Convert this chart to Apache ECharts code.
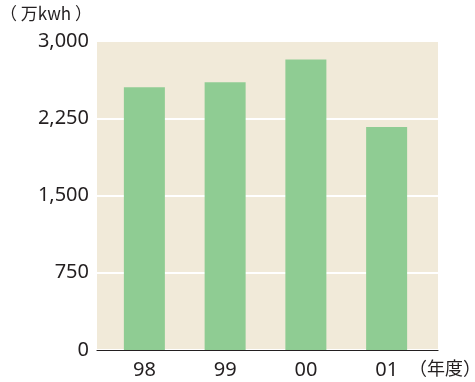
<!DOCTYPE html>
<html>
<head>
<meta charset="utf-8">
<script src="https://cdn.jsdelivr.net/npm/echarts@6/dist/echarts.min.js"></script>
<style>
html,body{margin:0;padding:0;background:#fff;}
#chart{width:475px;height:382px;}
</style>
</head>
<body>
<div id="chart"></div>
<script>
// Annual electricity (万kwh) by fiscal year
const years = ['98', '99', '00', '01'];
const usage = [2550, 2600, 2820, 2165];
const yTicks = { min: 0, max: 3000, interval: 750 };

const font = '"Noto Sans", "Noto Sans CJK JP", sans-serif';
const cjkFont = '"Noto Sans CJK JP", "Noto Sans", sans-serif';
const textColor = '#231f20';

const chart = echarts.init(document.getElementById('chart'), null, { renderer: 'canvas' });
chart.setOption({
  animation: false,
  grid: [
    // panel with background, gridlines and baseline
    { left: 97, right: 37, top: 41, bottom: 32, backgroundColor: '#F1EAD9', show: true, borderWidth: 0 },
    // bars
    { left: 104, right: 48, top: 41, bottom: 32 }
  ],
  xAxis: [
    {
      gridIndex: 0, type: 'value', min: 0, max: 1,
      axisLine: { show: true, onZero: false, lineStyle: { color: '#231f20', width: 1.2 } },
      axisTick: { show: false }, axisLabel: { show: false }, splitLine: { show: false }
    },
    {
      gridIndex: 1, type: 'category', data: years,
      axisLine: { show: false }, axisTick: { show: false },
      axisLabel: { color: textColor, fontSize: 20, fontFamily: font, margin: 10 }
    }
  ],
  yAxis: [
    {
      gridIndex: 0, type: 'value', min: yTicks.min, max: yTicks.max, interval: yTicks.interval,
      axisLine: { show: false }, axisTick: { show: false },
      axisLabel: {
        color: textColor, fontSize: 20, fontFamily: font, margin: 8,
        formatter: v => v.toLocaleString('en-US')
      },
      splitLine: { show: true, lineStyle: { color: '#ffffff', width: 2 } }
    },
    {
      gridIndex: 1, type: 'value', min: yTicks.min, max: yTicks.max, interval: yTicks.interval,
      show: false, splitLine: { show: false }
    }
  ],
  series: [{
    type: 'bar',
    xAxisIndex: 1, yAxisIndex: 1,
    data: usage,
    barWidth: 41,
    itemStyle: { color: '#8FCC93' }
  }],
  graphic: [
    {
      type: 'text', left: 0, top: 5,
      style: { text: '（ 万kwh ）', font: '17px ' + cjkFont, fill: textColor }
    },
    {
      type: 'text', left: 409, top: 359,
      style: { text: '（年度）', font: '18px ' + cjkFont, fill: textColor }
    }
  ]
});
</script>
</body>
</html>
